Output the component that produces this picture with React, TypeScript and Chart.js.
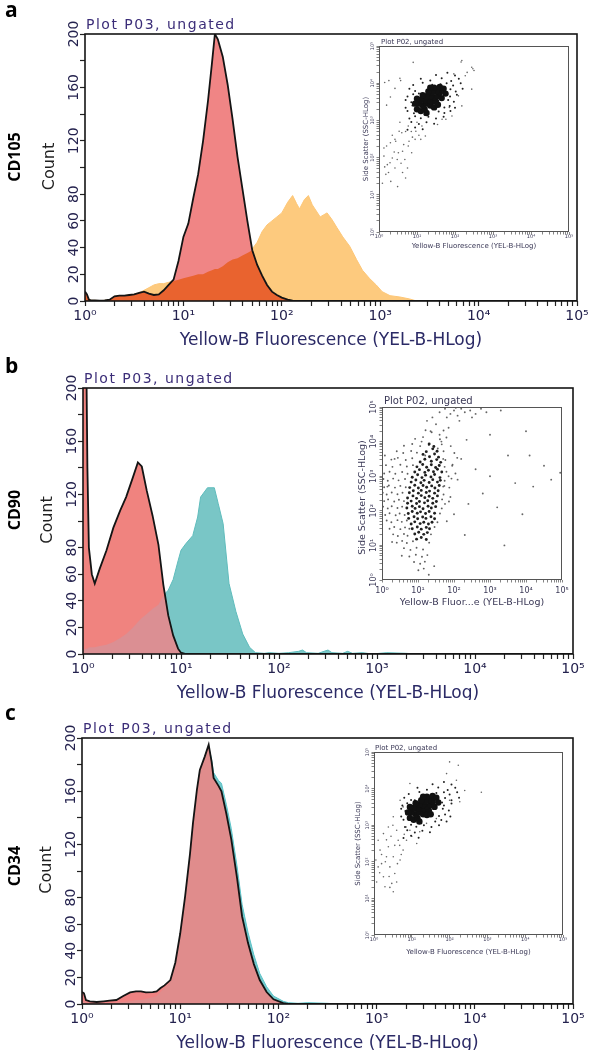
import React, { useEffect, useRef } from "react";
import { Chart, registerables } from "chart.js";

Chart.register(...registerables);

// ---------------- Histogram data (x stored as log10 of fluorescence) ----------------
// Panel a : CD105
const logBinsA = [
  0, 0.02, 0.04, 0.06, 0.1, 0.15, 0.2, 0.25, 0.3, 0.35,
  0.4, 0.45, 0.5, 0.55, 0.6, 0.65, 0.7, 0.75, 0.8, 0.85,
  0.9, 0.95, 1.0, 1.05, 1.1, 1.15, 1.2, 1.25, 1.29, 1.32,
  1.35, 1.4, 1.45, 1.5, 1.55, 1.6, 1.65, 1.7, 1.75, 1.8,
  1.85, 1.9, 1.95, 2.0, 2.06, 2.11, 2.15, 2.18, 2.23, 2.27,
  2.31, 2.39, 2.46, 2.51, 2.56, 2.62, 2.69, 2.76, 2.82, 2.89,
  2.96, 3.02, 3.1, 3.2, 3.3, 3.37, 3.5, 5,
];
const isotypeA = [
  7, 5, 1, 0.5, 0.5, 0.3, 0.5, 1, 3.5, 4,
  4, 4.5, 5, 6, 7, 5.5, 4.5, 5, 8, 12,
  16, 30, 48, 58, 77, 95, 120, 150, 178, 200,
  196, 183, 162, 136, 108, 84, 60, 38, 27, 19,
  12, 7, 4.5, 2.5, 1, 0.3, 0, 0, 0, 0,
  0, 0, 0, 0, 0, 0, 0, 0, 0, 0,
  0, 0, 0, 0, 0, 0, 0, 0,
];
const cd105A = [
  6, 4, 1, 0.5, 0.5, 0.3, 0.5, 1, 3.5, 4,
  4, 4.5, 5, 6, 8, 10, 12, 13, 13, 14,
  15, 16, 17, 18, 19, 20, 20, 22, 23, 24,
  24, 26, 29, 31, 32, 34, 36, 39, 44, 52,
  57, 60, 63, 66, 74, 79, 73, 69, 76, 79,
  72, 63, 66, 61, 55, 48, 41, 31, 23, 17,
  12, 7, 4, 3, 1.5, 0, 0, 0,
];

// Panel b : CD90
const logBinsB = [
  0, 0.03, 0.045, 0.06, 0.09, 0.12, 0.17, 0.24, 0.31, 0.38,
  0.44, 0.51, 0.56, 0.6, 0.65, 0.71, 0.77, 0.82, 0.87, 0.92,
  0.97, 1.0, 1.05, 1.12, 1.17, 1.2, 1.27, 1.34, 1.38, 1.43,
  1.49, 1.56, 1.63, 1.7, 1.76, 1.85, 1.9, 2.0, 2.1, 2.2,
  2.24, 2.28, 2.4, 2.46, 2.5, 2.54, 2.65, 2.7, 2.75, 2.85,
  2.9, 2.95, 3.1, 3.3, 3.4, 3.5, 5,
];
const isotypeB = [
  250, 250, 140, 80, 60, 53, 64, 78, 95, 108,
  118, 133, 144, 141, 123, 104, 82, 52, 29, 14,
  4, 1, 0, 0, 0, 0, 0, 0, 0, 0,
  0, 0, 0, 0, 0, 0, 0, 0, 0, 0,
  0, 0, 0, 0, 0, 0, 0, 0, 0, 0,
  0, 0, 0, 0, 0, 0, 0,
];
const cd90B = [
  3, 4, 4, 5, 5, 5, 6, 7, 9, 12,
  15, 20, 24, 27, 30, 34, 37, 44, 48, 56,
  70, 78, 83, 89, 103, 118, 125, 125, 113, 98,
  53, 32, 15, 5, 1, 0.5, 1, 0.5, 1, 2,
  3, 1, 0.5, 2, 3, 1, 0.5, 2, 0.5, 1,
  0.5, 0, 1, 0.5, 0, 0, 0,
];

// Panel c : CD34
const logBinsC = [
  0, 0.02, 0.04, 0.08, 0.15, 0.22, 0.28, 0.35, 0.42, 0.49,
  0.55, 0.6, 0.65, 0.72, 0.76, 0.8, 0.84, 0.9, 0.95, 1.0,
  1.05, 1.1, 1.13, 1.17, 1.2, 1.25, 1.29, 1.32, 1.34, 1.39,
  1.42, 1.47, 1.52, 1.58, 1.63, 1.69, 1.75, 1.81, 1.88, 1.95,
  2.05, 2.1, 2.2, 2.3, 2.5, 2.6, 5,
];
const isotypeC = [
  9, 8, 3, 2, 1.5, 2, 2.5, 3, 6, 8.7,
  9.5, 9.5, 8.7, 9, 9.5, 12, 14, 18, 31, 53,
  81, 113, 136, 161, 176, 186, 195, 182, 170, 164,
  160, 143, 124, 94, 66, 46, 30, 18, 9, 3.5,
  0.7, 0, 0, 0, 0, 0, 0,
];
const cd34C = [
  2, 2, 1, 1, 0.5, 0.5, 0.5, 1, 1.5, 2,
  3, 3, 4, 5, 6, 9, 12, 17, 30, 51,
  79, 111, 134, 159, 175, 185, 193, 184, 174, 168,
  166, 150, 132, 103, 75, 54, 37, 23, 13, 6,
  2, 1, 0.5, 1, 0.5, 0, 0,
];

// ---------------- Axis labels ----------------
const countTicks = [0, 20, 40, 60, 80, 100, 120, 140, 160, 180, 200];
const countLabels = [0, 20, 40, 60, 80, 120, 160, 200];
const decadeLabels = ["10⁰", "10¹", "10²", "10³", "10⁴", "10⁵"];
const mantissas = [1, 2, 3, 4, 5, 6, 7, 8, 9];

// ---------------- Inset scatter data: [log10 Yellow-B, log10 SSC] ----------------
type Pt = [number, number];

const coreA: Pt[] = [
  [1.0, 3.3], [1.1, 3.25], [1.2, 3.3], [1.15, 3.4], [1.05, 3.45], [1.25, 3.45], [1.35, 3.4], [1.3, 3.55],
  [1.2, 3.55], [1.1, 3.55], [1.4, 3.5], [1.5, 3.5], [1.45, 3.62], [1.35, 3.65], [1.25, 3.65], [1.15, 3.68],
  [1.55, 3.65], [1.6, 3.75], [1.5, 3.78], [1.4, 3.75], [1.3, 3.78], [1.65, 3.6], [1.45, 3.88], [1.6, 3.9],
  [1.7, 3.85], [1.25, 3.2], [1.45, 3.35], [1.55, 3.42], [1.0, 3.58], [1.75, 3.72], [0.95, 3.45], [1.35, 3.88],
];
const haloA: Pt[] = [
  [1.5, 4.22], [1.8, 4.28], [2.0, 4.21], [1.1, 4.12], [1.35, 4.07], [1.65, 4.13], [1.9, 4.06], [2.1, 4.12],
  [0.9, 3.95], [1.15, 4.01], [1.4, 3.96], [1.78, 4.0], [1.95, 3.94], [2.15, 4.0], [0.8, 3.85], [0.95, 3.79],
  [1.88, 3.84], [2.02, 3.78], [2.2, 3.85], [0.75, 3.64], [0.9, 3.7], [1.87, 3.64], [2.05, 3.69], [0.7, 3.55],
  [0.85, 3.49], [1.82, 3.55], [1.97, 3.5], [0.7, 3.34], [0.88, 3.4], [1.72, 3.35], [1.86, 3.39], [2.0, 3.34],
  [0.75, 3.25], [0.92, 3.19], [1.57, 3.24], [1.72, 3.2], [1.88, 3.25], [0.8, 3.05], [0.95, 3.11], [1.1, 3.06],
  [1.3, 3.1], [1.5, 3.05], [1.7, 3.1], [0.85, 2.96], [1.05, 2.9], [1.25, 2.95], [1.45, 2.91], [0.75, 2.75],
  [0.95, 2.81], [1.15, 2.76], [1.2, 3.15], [1.62, 3.97], [1.05, 3.72], [1.8, 3.7],
];
const sparseA: Pt[] = [
  [0.9, 4.56], [2.18, 4.61], [2.44, 4.43], [2.5, 4.34], [0.15, 4.02], [0.55, 4.13], [0.42, 3.86], [0.3, 3.63],
  [0.2, 3.41], [1.97, 4.25], [2.32, 4.29], [2.27, 4.2], [2.44, 3.84], [2.09, 3.66], [2.18, 3.39], [1.92, 3.12],
  [1.66, 3.03], [1.22, 2.58], [1.13, 2.85], [0.77, 2.85], [0.6, 2.67], [0.42, 2.49], [0.2, 2.31], [0.13, 2.04],
  [0.29, 1.86], [0.51, 2.13], [0.77, 2.31], [0.95, 2.49], [0.86, 2.13], [0.68, 1.95], [0.42, 1.72], [0.09, 1.31],
  [0.31, 1.36], [0.49, 1.22], [0.7, 1.45], [0.75, 1.72], [0.22, 1.81], [0.13, 2.26], [0.35, 1.99], [0.62, 2.17],
  [0.79, 2.44], [0.97, 2.71], [1.1, 2.49], [0.53, 2.71], [0.44, 2.44], [0.26, 4.07], [0.57, 4.07], [2.16, 4.57],
  [2.47, 4.39], [1.76, 3.03], [1.85, 3.35], [1.54, 2.89], [1.0, 2.95], [0.85, 2.7], [0.65, 2.35], [0.35, 2.6],
  [0.58, 1.85], [0.18, 1.55], [0.55, 2.95], [0.4, 2.15], [0.25, 1.6], [0.62, 1.6], [0.88, 2.55], [0.3, 2.4],
  [0.48, 1.95], [0.7, 2.7], [1.05, 2.6], [0.15, 1.75],
];

const bandB: Pt[] = [
  [1.31, 3.93], [1.44, 3.86], [1.23, 3.71], [1.41, 3.79], [1.53, 3.72], [1.14, 3.63], [1.32, 3.56], [1.46, 3.64],
  [1.57, 3.55], [1.06, 3.41], [1.19, 3.49], [1.37, 3.43], [1.52, 3.48], [1.63, 3.4], [0.97, 3.27], [1.13, 3.34],
  [1.24, 3.26], [1.37, 3.33], [1.49, 3.25], [1.59, 3.31], [0.91, 3.12], [1.04, 3.19], [1.19, 3.11], [1.29, 3.17],
  [1.43, 3.13], [1.54, 3.2], [1.66, 3.12], [0.84, 2.97], [0.99, 3.04], [1.11, 2.96], [1.21, 3.03], [1.36, 2.98],
  [1.46, 3.05], [1.61, 2.96], [0.81, 2.83], [0.94, 2.89], [1.08, 2.81], [1.17, 2.88], [1.31, 2.82], [1.41, 2.9],
  [1.54, 2.83], [1.62, 2.88], [0.77, 2.67], [0.91, 2.74], [1.01, 2.66], [1.14, 2.73], [1.24, 2.68], [1.38, 2.72],
  [1.47, 2.66], [1.59, 2.73], [0.76, 2.52], [0.87, 2.58], [1.01, 2.51], [1.09, 2.59], [1.23, 2.53], [1.32, 2.57],
  [1.46, 2.51], [1.56, 2.58], [0.71, 2.37], [0.86, 2.43], [0.96, 2.36], [1.09, 2.44], [1.19, 2.38], [1.31, 2.42],
  [1.41, 2.36], [1.54, 2.43], [0.71, 2.22], [0.81, 2.28], [0.96, 2.21], [1.04, 2.27], [1.18, 2.23], [1.27, 2.29],
  [1.41, 2.22], [1.51, 2.27], [0.69, 2.08], [0.84, 2.13], [0.92, 2.07], [1.04, 2.12], [1.14, 2.06], [1.28, 2.13],
  [1.37, 2.08], [1.49, 2.12], [0.73, 1.92], [0.84, 1.98], [0.98, 1.93], [1.07, 1.97], [1.21, 1.92], [1.31, 1.98],
  [1.46, 1.93], [0.74, 1.78], [0.89, 1.83], [0.99, 1.77], [1.13, 1.82], [1.22, 1.78], [1.36, 1.83], [1.46, 1.77],
  [0.81, 1.62], [0.91, 1.68], [1.06, 1.63], [1.16, 1.67], [1.29, 1.62], [1.39, 1.67], [0.84, 1.48], [0.98, 1.53],
  [1.09, 1.47], [1.23, 1.52], [1.32, 1.48], [0.91, 1.33], [1.02, 1.38], [1.16, 1.32], [1.26, 1.37], [0.96, 1.18],
  [1.09, 1.23], [1.23, 1.17],
];
const cloudB: Pt[] = [
  [1.21, 4.33], [1.38, 4.27], [1.71, 4.32], [0.92, 4.08], [1.14, 4.13], [1.61, 4.07], [1.79, 4.12], [0.61, 3.88],
  [0.84, 3.93], [1.06, 3.87], [1.66, 3.92], [1.91, 3.87], [0.41, 3.72], [0.59, 3.67], [0.81, 3.73], [0.97, 3.68],
  [1.71, 3.72], [2.01, 3.67], [0.26, 3.48], [0.44, 3.53], [0.66, 3.47], [0.84, 3.52], [1.76, 3.47], [2.09, 3.53],
  [0.11, 3.32], [0.29, 3.27], [0.51, 3.33], [0.69, 3.28], [0.86, 3.32], [1.74, 3.27], [1.96, 3.33], [0.06, 3.08],
  [0.21, 3.13], [0.37, 3.07], [0.56, 3.12], [0.71, 3.07], [1.79, 3.13], [2.04, 3.08], [0.04, 2.92], [0.16, 2.87],
  [0.31, 2.93], [0.46, 2.88], [0.64, 2.92], [1.74, 2.87], [1.93, 2.93], [0.06, 2.68], [0.19, 2.73], [0.36, 2.67],
  [0.51, 2.72], [0.66, 2.68], [1.73, 2.72], [1.87, 2.67], [0.02, 2.52], [0.13, 2.47], [0.27, 2.53], [0.43, 2.48],
  [0.57, 2.52], [1.71, 2.47], [0.06, 2.28], [0.17, 2.33], [0.34, 2.27], [0.47, 2.32], [0.61, 2.28], [1.67, 2.33],
  [1.86, 2.27], [0.03, 2.12], [0.16, 2.07], [0.27, 2.13], [0.43, 2.08], [0.56, 2.12], [1.66, 2.07], [0.09, 1.88],
  [0.21, 1.93], [0.38, 1.87], [0.49, 1.92], [0.63, 1.88], [1.61, 1.92], [0.13, 1.72], [0.26, 1.67], [0.43, 1.73],
  [0.55, 1.68], [0.69, 1.72], [1.54, 1.67], [0.21, 1.48], [0.34, 1.53], [0.51, 1.47], [0.64, 1.52], [0.76, 1.48],
  [1.46, 1.53], [0.31, 1.32], [0.44, 1.27], [0.61, 1.33], [0.71, 1.28], [1.36, 1.32], [0.41, 1.08], [0.56, 1.13],
  [0.69, 1.07], [0.86, 1.12], [1.31, 1.08], [0.61, 0.92], [0.79, 0.87], [0.96, 0.93], [1.14, 0.88], [0.76, 0.68],
  [0.94, 0.73], [1.11, 0.67], [1.26, 0.72], [0.89, 0.52], [1.06, 0.47], [1.19, 0.53], [1.01, 0.28], [1.16, 0.33],
];
const sparseB: Pt[] = [
  [1.2, 3.6], [1.3, 3.9], [1.55, 3.8], [1.6, 4.2], [1.35, 4.3], [1.5, 4.5], [1.65, 4.0], [1.7, 3.5],
  [1.25, 4.6], [1.1, 4.0], [1.6, 4.85], [1.75, 4.95], [1.9, 4.8], [2.0, 4.9], [2.1, 4.75], [2.2, 4.95],
  [2.3, 4.85], [2.45, 4.9], [2.6, 4.8], [2.75, 4.95], [1.8, 4.7], [2.05, 4.98], [2.5, 4.7], [2.9, 4.85],
  [3.3, 4.9], [1.7, 2.7], [1.75, 2.2], [1.8, 1.7], [1.85, 3.0], [1.9, 2.4], [2.0, 1.9], [2.1, 2.9],
  [2.2, 3.5], [2.4, 2.2], [2.6, 3.2], [2.8, 2.5], [3.0, 3.0], [3.2, 2.1], [3.5, 3.6], [3.7, 2.8],
  [4.0, 4.3], [4.2, 2.7], [4.5, 3.3], [4.7, 2.9], [4.95, 3.1], [3.9, 1.9], [3.0, 4.2], [2.3, 1.3],
  [3.4, 1.0], [4.1, 3.6], [1.95, 3.3], [0.15, 2.7], [0.35, 3.5], [0.55, 0.7], [0.28, 1.1],
  [1.4, 4.7], [1.85, 4.4], [2.15, 4.6], [1.45, 0.4], [1.3, 0.15], [0.08, 3.6], [2.35, 4.05],
];

const coreC: Pt[] = [
  [0.95, 3.2], [1.05, 3.15], [1.15, 3.2], [1.1, 3.3], [1.0, 3.35], [1.2, 3.35], [1.3, 3.3], [1.25, 3.45],
  [1.15, 3.45], [1.05, 3.47], [1.35, 3.42], [1.45, 3.4], [1.4, 3.52], [1.3, 3.55], [1.2, 3.57], [1.1, 3.6],
  [1.5, 3.55], [1.55, 3.65], [1.45, 3.68], [1.35, 3.65], [1.25, 3.68], [1.6, 3.5], [1.4, 3.78], [1.55, 3.8],
  [1.65, 3.75], [1.2, 3.1], [1.4, 3.28], [1.5, 3.3], [0.95, 3.5], [1.7, 3.62], [0.9, 3.35], [1.3, 3.78],
];
const haloC: Pt[] = [
  [1.55, 4.12], [1.85, 4.18], [2.05, 4.11], [1.15, 4.02], [1.4, 3.97], [1.7, 4.03], [1.95, 3.96], [2.15, 4.02],
  [0.92, 3.85], [1.2, 3.91], [1.85, 3.9], [2.0, 3.84], [2.2, 3.9], [0.8, 3.75], [0.98, 3.69], [1.88, 3.74],
  [2.05, 3.68], [2.25, 3.75], [0.75, 3.54], [0.88, 3.6], [1.85, 3.54], [2.05, 3.59], [0.72, 3.45], [0.83, 3.39],
  [1.82, 3.45], [1.98, 3.4], [0.72, 3.24], [0.86, 3.3], [1.72, 3.25], [1.88, 3.29], [2.02, 3.24], [0.78, 3.15],
  [1.62, 3.1], [1.78, 3.14], [1.92, 3.1], [0.82, 2.95], [0.98, 3.01], [1.12, 2.96], [1.32, 3.0], [1.52, 2.95],
  [1.72, 3.0], [0.88, 2.86], [1.08, 2.8], [1.28, 2.85], [1.48, 2.81], [0.78, 2.65], [0.98, 2.71], [1.18, 2.66],
  [1.25, 3.05], [1.65, 3.88], [1.08, 3.68], [1.8, 3.62],
];
const sparseC: Pt[] = [
  [2.0, 4.73], [2.23, 4.64], [1.92, 4.41], [2.18, 4.23], [2.4, 3.95], [2.84, 3.9], [2.27, 3.64], [2.0, 3.68],
  [0.95, 4.14], [0.69, 3.68], [0.77, 3.5], [0.51, 3.23], [0.38, 2.95], [0.25, 2.77], [0.11, 2.59], [0.16, 2.32],
  [0.33, 2.14], [0.2, 1.95], [0.42, 1.86], [0.55, 1.68], [0.47, 1.41], [0.6, 1.45], [0.25, 1.59], [0.07, 1.45],
  [0.86, 2.59], [1.13, 2.5], [0.77, 2.32], [0.64, 2.59], [0.95, 2.86], [1.21, 2.82], [0.51, 2.14], [0.69, 2.05],
  [0.38, 2.41], [0.6, 2.86], [1.39, 3.05], [1.65, 3.18], [0.11, 1.86], [0.29, 1.32], [0.51, 1.18], [0, 2.8],
  [0, 2.5], [0, 2.2], [0, 1.9], [0, 1.6], [0, 1.4], [0.45, 2.7], [0.3, 2.0], [0.72, 2.2], [1.0, 2.7],
  [0.55, 2.45], [0.85, 2.95], [0.2, 2.2], [0.4, 1.6], [0.15, 1.7], [0.62, 1.95], [0.33, 2.6], [0.8, 2.75],
  [0.05, 2.05], [0.5, 3.0], [0.42, 1.3], [0.68, 2.45],
];

// ---------------- Styling / layout ----------------
const TICK_COLOR = "#24224e";
const TITLE_COLOR = "#3b2d78";
const FONT = "DejaVu Sans";

type Area = { left: number; top: number; right: number; bottom: number };

interface InsetSpec {
  left: number;
  top: number;
  width: number;
  height: number;
  area: Area;
  core: Pt[];
  halo: Pt[];
  cloud: Pt[];
  sparse: Pt[];
  radii: [number, number, number];
  cloudColor: string;
  xTitle: string;
  fonts: { title: number; tick: number; axis: number };
  off: { titleX: number; title: number; yTick: number; yTitle: number; yTitleShift: number; xTick: number; xTitle: number };
}

interface PanelSpec {
  top: number;
  letter: string;
  letterBase: number;
  marker: string;
  markerY: number;
  area: Area;
  bins: number[];
  control: number[];
  sample: number[];
  colors: { control: string; sample: string; sampleEdge: string; overlap: string };
  inset: InsetSpec;
}

const W = 595;
const H = 350;

const panels: PanelSpec[] = [
  {
    top: 0, letter: "a", letterBase: 17, marker: "CD105", markerY: 157,
    area: { left: 85, top: 34, right: 577, bottom: 301 },
    bins: logBinsA, control: isotypeA, sample: cd105A,
    colors: { control: "#f08585", sample: "#fdca7e", sampleEdge: "#fdc676", overlap: "#e9632f" },
    inset: {
      left: 340, top: 30, width: 240, height: 230,
      area: { left: 39, top: 16, right: 229, bottom: 202 },
      core: coreA, halo: haloA, cloud: [], sparse: sparseA, radii: [3.2, 1.0, 0.8], cloudColor: "#777",
      xTitle: "Yellow-B Fluorescence (YEL-B-HLog)",
      fonts: { title: 7, tick: 5, axis: 7 },
      off: { titleX: 2, title: 2, yTick: 5, yTitle: 11, yTitleShift: 0, xTick: 6, xTitle: 16 },
    },
  },
  {
    top: 350, letter: "b", letterBase: 23, marker: "CD90", markerY: 160,
    area: { left: 83, top: 38, right: 573, bottom: 304 },
    bins: logBinsB, control: isotypeB, sample: cd90B,
    colors: { control: "#f0837f", sample: "#79c6c6", sampleEdge: "#5fbcbc", overlap: "#db8f93" },
    inset: {
      left: 340, top: 35, width: 235, height: 240,
      area: { left: 42, top: 22, right: 222, bottom: 195 },
      core: [], halo: bandB, cloud: cloudB, sparse: sparseB, radii: [1.5, 1.45, 0.95], cloudColor: "#5e5e5e",
      xTitle: "Yellow-B Fluor...e (YEL-B-HLog)",
      fonts: { title: 10, tick: 8, axis: 9.5 },
      off: { titleX: 2, title: 3, yTick: 6, yTitle: 17, yTitleShift: 4, xTick: 13, xTitle: 25 },
    },
  },
  {
    top: 700, letter: "c", letterBase: 20, marker: "CD34", markerY: 166,
    area: { left: 82, top: 38, right: 573, bottom: 304 },
    bins: logBinsC, control: isotypeC, sample: cd34C,
    colors: { control: "#ef8282", sample: "#74c9cc", sampleEdge: "#5cc3c8", overlap: "#e08c8c" },
    inset: {
      left: 340, top: 35, width: 235, height: 230,
      area: { left: 34, top: 17, right: 223, bottom: 200 },
      core: coreC, halo: haloC, cloud: [], sparse: sparseC, radii: [3.2, 1.0, 0.8], cloudColor: "#777",
      xTitle: "Yellow-B Fluorescence (YEL-B-HLog)",
      fonts: { title: 7, tick: 5, axis: 7 },
      off: { titleX: 1, title: 2, yTick: 5, yTitle: 14, yTitleShift: 0, xTick: 6, xTitle: 19 },
    },
  },
];

// ---------------- Helpers ----------------
function logTickValues(): number[] {
  const out: number[] = [];
  for (let d = 0; d < 5; d++) for (const m of mantissas) out.push(m * Math.pow(10, d));
  out.push(Math.pow(10, 5));
  return out;
}

function decadeLabel(v: number): string {
  const e = Math.log10(v);
  const r = Math.round(e);
  return Math.abs(e - r) < 1e-6 ? decadeLabels[r] : "";
}

function rotatedText(ctx: CanvasRenderingContext2D, text: string, x: number, y: number) {
  ctx.save();
  ctx.translate(x, y);
  ctx.rotate(-Math.PI / 2);
  ctx.fillText(text, 0, 0);
  ctx.restore();
}

function mainDecor(p: PanelSpec) {
  return {
    id: "mainDecor",
    afterDatasetsDraw(chart: any) {
      const { ctx, chartArea: a } = chart;
      const ys = chart.scales.y;
      ctx.save();
      ctx.strokeStyle = "#151515";
      ctx.lineWidth = 1.6;
      ctx.strokeRect(a.left, a.top, a.right - a.left, a.bottom - a.top);

      ctx.fillStyle = TICK_COLOR;
      ctx.textBaseline = "alphabetic";
      ctx.textAlign = "center";
      ctx.font = `14px "${FONT}"`;
      for (const v of countLabels) rotatedText(ctx, String(v), a.left - 7, ys.getPixelForValue(v));

      ctx.fillStyle = "#222";
      ctx.font = `16px "${FONT}"`;
      rotatedText(ctx, "Count", a.left - 31, (a.top + a.bottom) / 2 - 1);

      ctx.fillStyle = "#000";
      ctx.font = `bold 16px "Open Sans"`;
      rotatedText(ctx, p.marker, 19.5, p.markerY);

      ctx.textAlign = "left";
      ctx.font = `bold 21px "Open Sans"`;
      ctx.fillText(p.letter, 5, p.letterBase);

      ctx.fillStyle = TITLE_COLOR;
      ctx.font = `14px "${FONT}"`;
      (ctx as any).letterSpacing = "1.5px";
      ctx.fillText("Plot P03, ungated", a.left + 1, a.top - 5);
      (ctx as any).letterSpacing = "0px";

      ctx.fillStyle = "#2b2a66";
      ctx.textAlign = "center";
      ctx.font = `17px "${FONT}"`;
      ctx.fillText("Yellow-B Fluorescence (YEL-B-HLog)", (a.left + a.right) / 2, a.bottom + 44);
      ctx.restore();
    },
  };
}

function insetDecor(s: InsetSpec) {
  return {
    id: "insetDecor",
    afterDatasetsDraw(chart: any) {
      const { ctx, chartArea: a } = chart;
      const xs = chart.scales.x;
      const ys = chart.scales.y;
      ctx.save();
      ctx.strokeStyle = "#555";
      ctx.lineWidth = 1;
      ctx.strokeRect(a.left + 0.5, a.top + 0.5, a.right - a.left - 1, a.bottom - a.top - 1);

      ctx.fillStyle = "#3a3856";
      ctx.textBaseline = "alphabetic";
      ctx.textAlign = "left";
      ctx.font = `${s.fonts.title}px "${FONT}"`;
      ctx.fillText("Plot P02, ungated", a.left + s.off.titleX, a.top - s.off.title);

      ctx.textAlign = "center";
      ctx.font = `${s.fonts.tick}px "${FONT}"`;
      decadeLabels.forEach((lab, e) => {
        const v = Math.pow(10, e);
        ctx.fillText(lab, xs.getPixelForValue(v), a.bottom + s.off.xTick);
        rotatedText(ctx, lab, a.left - s.off.yTick, ys.getPixelForValue(v));
      });

      ctx.font = `${s.fonts.axis}px "${FONT}"`;
      ctx.fillText(s.xTitle, (a.left + a.right) / 2, a.bottom + s.off.xTitle);
      rotatedText(ctx, "Side Scatter (SSC-HLog)", a.left - s.off.yTitle, (a.top + a.bottom) / 2 + s.off.yTitleShift);
      ctx.restore();
    },
  };
}

const NONE = "rgba(0,0,0,0)";

function makeMain(canvas: HTMLCanvasElement, p: PanelSpec): Chart {
  const toPts = (vals: number[]) => p.bins.map((b, i) => ({ x: Math.pow(10, b), y: vals[i] }));
  const overlapVals = p.control.map((v, i) => Math.min(v, p.sample[i]));
  const ticks = logTickValues();
  const gridOpts = { drawOnChartArea: false, drawTicks: true, tickLength: 5, tickColor: "#222", tickWidth: 1.2 };
  return new Chart(canvas, {
    type: "line",
    data: {
      datasets: [
        { data: toPts(p.control), borderColor: "#141414", borderWidth: 1.8, fill: false, pointRadius: 0, tension: 0, order: 0 },
        { data: toPts(overlapVals), borderColor: NONE, borderWidth: 0, backgroundColor: p.colors.overlap, fill: "origin", pointRadius: 0, tension: 0, order: 1 },
        { data: toPts(p.control), borderColor: NONE, borderWidth: 0, backgroundColor: p.colors.control, fill: "origin", pointRadius: 0, tension: 0, order: 2 },
        { data: toPts(p.sample), borderColor: p.colors.sampleEdge, borderWidth: 1, backgroundColor: p.colors.sample, fill: "origin", pointRadius: 0, tension: 0, order: 3 },
      ],
    },
    options: {
      animation: false,
      responsive: false,
      events: [],
      layout: { padding: { left: 0, top: p.area.top, right: W - p.area.right, bottom: 0 } },
      plugins: { legend: { display: false }, tooltip: { enabled: false } },
      scales: {
        x: {
          type: "logarithmic",
          min: 1,
          max: 100000,
          afterBuildTicks: (s: any) => { s.ticks = ticks.map((v) => ({ value: v })); },
          afterFit: (s: any) => { s.height = H - p.area.bottom; },
          ticks: {
            autoSkip: false, maxRotation: 0, minRotation: 0, padding: 2,
            color: TICK_COLOR, font: { family: FONT, size: 14 },
            callback: (v: any) => decadeLabel(Number(v)),
          },
          grid: gridOpts,
          border: { display: false },
        },
        y: {
          type: "linear",
          min: 0,
          max: 200,
          afterBuildTicks: (s: any) => { s.ticks = countTicks.map((v) => ({ value: v })); },
          afterFit: (s: any) => { s.width = p.area.left; },
          ticks: { display: false },
          grid: gridOpts,
          border: { display: false },
        },
      },
    } as any,
    plugins: [mainDecor(p)],
  });
}

function makeInset(canvas: HTMLCanvasElement, s: InsetSpec): Chart {
  const toXY = (pts: Pt[]) => pts.map(([lx, ly]) => ({ x: Math.pow(10, lx), y: Math.pow(10, ly) }));
  const ticks = logTickValues();
  const gridOpts = { drawOnChartArea: false, drawTicks: true, tickLength: 2.5, tickColor: "#666", tickWidth: 0.8 };
  const axis = (which: "x" | "y") => ({
    type: "logarithmic",
    min: 1,
    max: 100000,
    afterBuildTicks: (sc: any) => { sc.ticks = ticks.map((v) => ({ value: v })); },
    afterFit: (sc: any) => {
      if (which === "x") sc.height = s.height - s.area.bottom;
      else sc.width = s.area.left;
    },
    ticks: { display: false },
    grid: gridOpts,
    border: { display: false },
  });
  return new Chart(canvas, {
    type: "scatter",
    data: {
      datasets: [
        { data: toXY(s.core), pointRadius: s.radii[0], backgroundColor: "#111", borderWidth: 0, order: 0 },
        { data: toXY(s.halo), pointRadius: s.radii[1], backgroundColor: "#202020", borderWidth: 0, order: 1 },
        { data: toXY(s.cloud), pointRadius: s.radii[2], backgroundColor: s.cloudColor, borderWidth: 0, order: 2 },
        { data: toXY(s.sparse), pointRadius: s.radii[2], backgroundColor: "#666", borderWidth: 0, order: 3 },
      ],
    },
    options: {
      animation: false,
      responsive: false,
      events: [],
      layout: { padding: { left: 0, top: s.area.top, right: s.width - s.area.right, bottom: 0 } },
      plugins: { legend: { display: false }, tooltip: { enabled: false } },
      scales: { x: axis("x"), y: axis("y") },
    } as any,
    plugins: [insetDecor(s)],
  });
}

function Panel({ spec }: { spec: PanelSpec }) {
  const mainRef = useRef<HTMLCanvasElement>(null);
  const insetRef = useRef<HTMLCanvasElement>(null);
  useEffect(() => {
    const m = makeMain(mainRef.current!, spec);
    const i = makeInset(insetRef.current!, spec.inset);
    return () => {
      m.destroy();
      i.destroy();
    };
  }, [spec]);
  const ins = spec.inset;
  return (
    <div style={{ position: "absolute", left: 0, top: spec.top, width: W, height: H }}>
      <canvas ref={mainRef} width={W} height={H} style={{ position: "absolute", left: 0, top: 0, width: W, height: H }} />
      <canvas
        ref={insetRef}
        width={ins.width}
        height={ins.height}
        style={{ position: "absolute", left: ins.left, top: ins.top, width: ins.width, height: ins.height }}
      />
    </div>
  );
}

export default function App() {
  return (
    <div style={{ position: "absolute", left: 0, top: 0, width: W, height: 1050, background: "#fff" }}>
      {panels.map((p) => (
        <Panel key={p.letter} spec={p} />
      ))}
    </div>
  );
}
